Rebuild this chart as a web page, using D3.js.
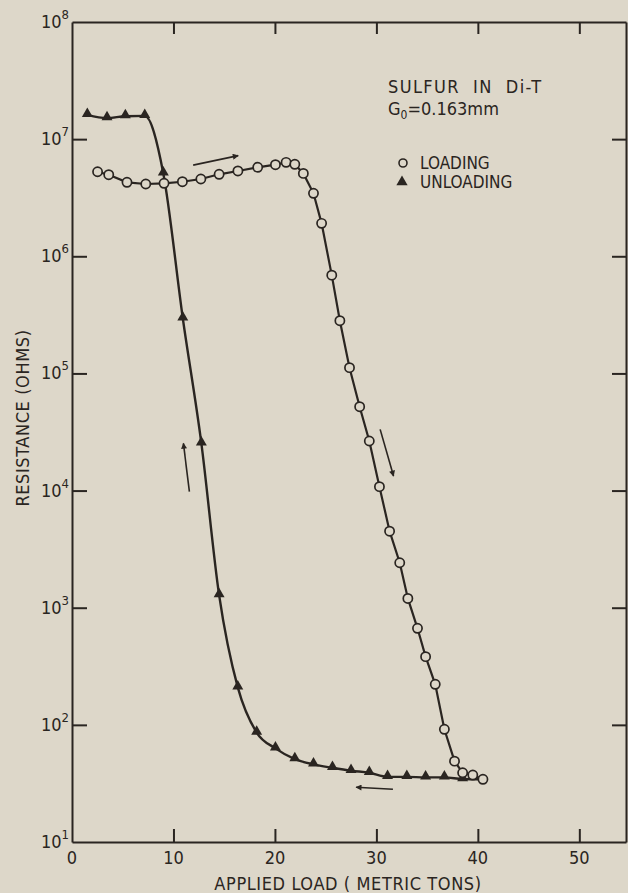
<!DOCTYPE html>
<html>
<head>
<meta charset="utf-8">
<script src="https://cdn.jsdelivr.net/npm/d3@7.9.0/dist/d3.min.js"></script>
<style>
  html, body { margin: 0; padding: 0; background: #ddd7c9; }
  svg { display: block; }
  text { font-family: 'DejaVu Sans Condensed', 'DejaVu Sans', sans-serif; fill: #2a2521; }
</style>
</head>
<body>
<div id="chart"></div>
<script>
// Loading (open circles): applied load (metric tons) and resistance (ohms)
const loadX = [2.52, 3.62, 5.42, 7.27, 9.07, 10.88, 12.7, 14.5, 16.35, 18.3, 20.05, 21.1, 21.96,
  22.8, 23.8, 24.6, 25.6, 26.4, 27.35, 28.35, 29.3, 30.3, 31.3, 32.3, 33.1, 34.05, 34.85,
  35.8, 36.7, 37.7, 38.5, 39.5, 40.5];
const loadR = [5.27e6, 4.97e6, 4.28e6, 4.14e6, 4.2e6, 4.33e6, 4.57e6, 5.01e6, 5.35e6, 5.75e6,
  6.05e6, 6.34e6, 6.1e6, 5.1e6, 3.45e6, 1.91e6, 6.9e5, 2.82e5, 1.12e5, 5.2e4, 2.65e4, 1.08e4,
  4.5e3, 2.42e3, 1.2e3, 667, 382, 222, 91.6, 49, 39, 37.3, 34.3];

// Unloading (filled triangles)
const unloadX = [1.51, 3.45, 5.26, 7.17, 9.0, 10.92, 12.75, 14.5, 16.34, 18.2, 20.05, 21.96,
  23.8, 25.67, 27.5, 29.3, 31.1, 33.0, 34.85, 36.7, 38.5];
const unloadR = [1.61e7, 1.51e7, 1.57e7, 1.58e7, 5.1e6, 2.96e5, 2.53e4, 1280, 209, 86, 63, 51,
  46, 43, 40.6, 39, 36, 36, 35.6, 35.6, 34.5];

const xTicks = [0, 10, 20, 30, 40, 50];
const yExponents = [1, 2, 3, 4, 5, 6, 7, 8];

// direction arrows: [x1, r1, x2, r2]
const arrows = [
  [11.94, 6.0e6, 16.38, 7.23e6],
  [11.57, 9.8e3, 10.98, 2.53e4],
  [30.37, 3.33e4, 31.69, 1.33e4],
  [31.63, 28.2, 28.0, 29.3],
];

const width = 628, height = 893;
const ink = '#2a2521';
const paper = '#ddd7c9';

const svg = d3.select('#chart').append('svg')
  .attr('width', width).attr('height', height);

const x = d3.scaleLinear().domain([0, 54.6]).range([72, 626]);
const y = d3.scaleLog().domain([10, 1e8]).range([842, 22]);

svg.append('defs').append('marker')
  .attr('id', 'head')
  .attr('viewBox', '0 0 10 10')
  .attr('refX', 9).attr('refY', 5)
  .attr('markerWidth', 9).attr('markerHeight', 6)
  .attr('markerUnits', 'userSpaceOnUse')
  .attr('orient', 'auto')
  .append('path').attr('d', 'M0,0 L10,5 L0,10 Z').attr('fill', ink);

// frame + ticks
const tickCls = (g) => {
  g.select('.domain').attr('stroke', ink).attr('stroke-width', 2);
  g.selectAll('.tick line').attr('stroke', ink).attr('stroke-width', 2);
  g.selectAll('.tick text').remove();
};

const innerTicks = yExponents.slice(1, -1).map((e) => 10 ** e);

svg.append('g').attr('transform', `translate(0,${y.range()[0]})`)
  .call(d3.axisBottom(x).tickValues(xTicks.slice(1)).tickSize(-13).tickSizeOuter(0))
  .call(tickCls);
svg.append('g').attr('transform', `translate(0,${y.range()[1]})`)
  .call(d3.axisTop(x).tickValues(xTicks.slice(1)).tickSize(-12).tickSizeOuter(0))
  .call(tickCls);
svg.append('g').attr('transform', `translate(${x.range()[0]},0)`)
  .call(d3.axisLeft(y).tickValues(innerTicks).tickSize(-15).tickSizeOuter(0))
  .call(tickCls);
svg.append('g').attr('transform', `translate(${x.range()[1]},0)`)
  .call(d3.axisRight(y).tickValues(innerTicks).tickSize(-14).tickSizeOuter(0))
  .call(tickCls);

// x tick labels
svg.append('g').selectAll('text').data(xTicks).join('text')
  .attr('x', (d) => x(d)).attr('y', 864)
  .attr('text-anchor', 'middle')
  .style('font-size', '18px')
  .text((d) => d);

// y tick labels 10^n
const yl = svg.append('g').selectAll('text').data(yExponents).join('text')
  .attr('x', 69).attr('y', (d) => y(10 ** d) + 6)
  .attr('text-anchor', 'end')
  .style('font-size', '18px');
yl.append('tspan').text('10');
yl.append('tspan').attr('dy', -9).style('font-size', '13px').text((d) => d);

// axis titles
svg.append('text')
  .attr('transform', `translate(29,${(y(1e5) + y(1e4)) / 2 - 14}) rotate(-90)`)
  .attr('text-anchor', 'middle')
  .style('font-size', '18px')
  .style('letter-spacing', '0.6px')
  .text('RESISTANCE (OHMS)');

svg.append('text')
  .attr('x', 348).attr('y', 890)
  .attr('text-anchor', 'middle')
  .style('font-size', '18px')
  .style('letter-spacing', '0.6px')
  .text('APPLIED LOAD ( METRIC TONS)');

// lines
const loadPts = loadX.map((d, i) => [d, loadR[i]]);
const unloadPts = unloadX.map((d, i) => [d, unloadR[i]]).concat([loadPts[loadPts.length - 1]]);

svg.append('path')
  .datum(loadPts)
  .attr('fill', 'none').attr('stroke', ink).attr('stroke-width', 2.2)
  .attr('d', d3.line().x((d) => x(d[0])).y((d) => y(d[1])));

svg.append('path')
  .datum(unloadPts)
  .attr('fill', 'none').attr('stroke', ink).attr('stroke-width', 2.4)
  .attr('d', d3.line().curve(d3.curveMonotoneX).x((d) => x(d[0])).y((d) => y(d[1])));

// markers
const tri = d3.symbol().type(d3.symbolTriangle).size(52);
svg.append('g').selectAll('path').data(unloadPts.slice(0, -1)).join('path')
  .attr('transform', (d) => `translate(${x(d[0])},${y(d[1]) - 1})`)
  .attr('d', tri)
  .attr('fill', ink);

svg.append('g').selectAll('circle').data(loadPts).join('circle')
  .attr('cx', (d) => x(d[0])).attr('cy', (d) => y(d[1]))
  .attr('r', 4.6)
  .attr('fill', paper).attr('stroke', ink).attr('stroke-width', 1.7);

// arrows
svg.append('g').selectAll('line').data(arrows).join('line')
  .attr('x1', (d) => x(d[0])).attr('y1', (d) => y(d[1]))
  .attr('x2', (d) => x(d[2])).attr('y2', (d) => y(d[3]))
  .attr('stroke', ink).attr('stroke-width', 1.6)
  .attr('marker-end', 'url(#head)');

// annotation + legend
svg.append('text').attr('x', 388).attr('y', 93).style('font-size', '18px')
  .style('letter-spacing', '1.4px')
  .attr('xml:space', 'preserve').text('SULFUR  IN  Di-T');
const g0 = svg.append('text').attr('x', 388).attr('y', 115).style('font-size', '18px');
g0.append('tspan').text('G');
g0.append('tspan').attr('dy', 4).style('font-size', '12px').text('0');
g0.append('tspan').attr('dy', -4).text('=0.163mm');

svg.append('circle').attr('cx', 403).attr('cy', 163).attr('r', 4)
  .attr('fill', 'none').attr('stroke', ink).attr('stroke-width', 1.6);
svg.append('text').attr('x', 420).attr('y', 169).style('font-size', '17px').text('LOADING');
svg.append('path').attr('transform', 'translate(402,182)')
  .attr('d', d3.symbol().type(d3.symbolTriangle).size(55)).attr('fill', ink);
svg.append('text').attr('x', 420).attr('y', 188).style('font-size', '17px').text('UNLOADING');
</script>
</body>
</html>
